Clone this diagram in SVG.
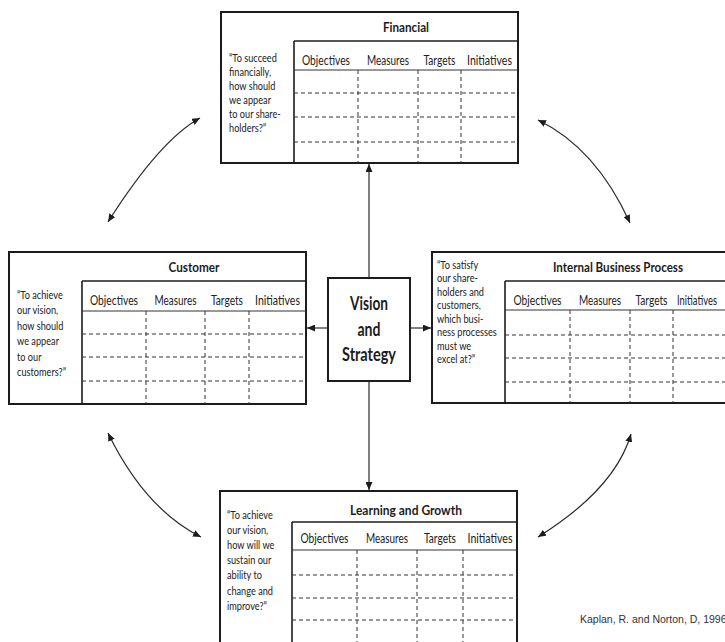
<svg xmlns="http://www.w3.org/2000/svg" width="725" height="642" viewBox="0 0 725 642">
<style>
.box{fill:#fff;stroke:#1c1c1c;stroke-width:2}
.tl{stroke:#1c1c1c;stroke-width:1.6}
.hl{stroke:#333;stroke-width:1}
.dl{stroke:#333;stroke-width:1;stroke-dasharray:4 3}
.q{font-family:Lato,"Open Sans",sans-serif;font-size:11.5px;fill:#222}
.h{font-family:Lato,"Open Sans",sans-serif;font-size:12.5px;fill:#222;text-anchor:middle}
.t{font-family:Lato,"Open Sans",sans-serif;font-size:13.5px;font-weight:bold;fill:#1c1c1c;text-anchor:middle}
.v{font-family:Lato,"Open Sans",sans-serif;font-size:18px;font-weight:bold;fill:#1c1c1c;text-anchor:middle}
.conn{fill:none;stroke:#2a2a2a;stroke-width:1.2}
.cite{font-family:"Liberation Sans",Arial,sans-serif;font-size:10.5px;fill:#333}
</style>
<defs>
<marker id="ah" markerUnits="userSpaceOnUse" markerWidth="8" markerHeight="7" refX="8" refY="3.5" orient="auto-start-reverse">
<path d="M0,0 L8,3.5 L0,7 z" fill="#1c1c1c"/>
</marker>
</defs>
<rect width="725" height="642" fill="#fff"/>

<g id="financial">
<rect class="box" x="221" y="12" width="297" height="151"/>
<text class="t" x="406" y="32" textLength="46" lengthAdjust="spacingAndGlyphs">Financial</text>
<line class="tl" x1="294" y1="41" x2="518" y2="41"/>
<line class="tl" x1="294" y1="41" x2="294" y2="163"/>
<line class="hl" x1="294" y1="70" x2="518" y2="70"/>
<text class="h" x="326" y="64.5" textLength="48" lengthAdjust="spacingAndGlyphs">Objectives</text>
<text class="h" x="388" y="64.5" textLength="42" lengthAdjust="spacingAndGlyphs">Measures</text>
<text class="h" x="439.5" y="64.5" textLength="32" lengthAdjust="spacingAndGlyphs">Targets</text>
<text class="h" x="489.5" y="64.5" textLength="45" lengthAdjust="spacingAndGlyphs">Initiatives</text>
<line class="dl" x1="294" y1="93" x2="518" y2="93"/>
<line class="dl" x1="294" y1="117" x2="518" y2="117"/>
<line class="dl" x1="294" y1="142" x2="518" y2="142"/>
<line class="dl" x1="358" y1="70" x2="358" y2="163"/>
<line class="dl" x1="418" y1="70" x2="418" y2="163"/>
<line class="dl" x1="461" y1="70" x2="461" y2="163"/>
<g transform="translate(229,0) scale(0.8,1)">
<text class="q" x="0" y="62">“To succeed</text>
<text class="q" x="0" y="76">financially,</text>
<text class="q" x="0" y="90">how should</text>
<text class="q" x="0" y="104">we appear</text>
<text class="q" x="0" y="118">to our share-</text>
<text class="q" x="0" y="132">holders?”</text>
</g>
</g>

<g id="customer">
<rect class="box" x="9" y="252" width="297" height="152"/>
<text class="t" x="194" y="272" textLength="51" lengthAdjust="spacingAndGlyphs">Customer</text>
<line class="tl" x1="82" y1="281" x2="306" y2="281"/>
<line class="tl" x1="82" y1="281" x2="82" y2="404"/>
<line class="hl" x1="82" y1="311" x2="306" y2="311"/>
<text class="h" x="114" y="304.5" textLength="48" lengthAdjust="spacingAndGlyphs">Objectives</text>
<text class="h" x="175.5" y="304.5" textLength="42" lengthAdjust="spacingAndGlyphs">Measures</text>
<text class="h" x="227" y="304.5" textLength="32" lengthAdjust="spacingAndGlyphs">Targets</text>
<text class="h" x="277.5" y="304.5" textLength="45" lengthAdjust="spacingAndGlyphs">Initiatives</text>
<line class="dl" x1="82" y1="334" x2="306" y2="334"/>
<line class="dl" x1="82" y1="357" x2="306" y2="357"/>
<line class="dl" x1="82" y1="381" x2="306" y2="381"/>
<line class="dl" x1="146" y1="311" x2="146" y2="404"/>
<line class="dl" x1="205" y1="311" x2="205" y2="404"/>
<line class="dl" x1="249" y1="311" x2="249" y2="404"/>
<g transform="translate(17,0) scale(0.8,1)">
<text class="q" x="0" y="299">“To achieve</text>
<text class="q" x="0" y="314.5">our vision,</text>
<text class="q" x="0" y="330">how should</text>
<text class="q" x="0" y="345.5">we appear</text>
<text class="q" x="0" y="361">to our</text>
<text class="q" x="0" y="376.5">customers?”</text>
</g>
</g>

<g id="internal-business-process">
<rect class="box" x="432" y="252" width="300" height="151"/>
<text class="t" x="618" y="272" textLength="130" lengthAdjust="spacingAndGlyphs">Internal Business Process</text>
<line class="tl" x1="505" y1="281" x2="732" y2="281"/>
<line class="tl" x1="505" y1="281" x2="505" y2="403"/>
<line class="hl" x1="505" y1="310" x2="732" y2="310"/>
<text class="h" x="537.5" y="304.5" textLength="48" lengthAdjust="spacingAndGlyphs">Objectives</text>
<text class="h" x="600" y="304.5" textLength="42" lengthAdjust="spacingAndGlyphs">Measures</text>
<text class="h" x="651.5" y="304.5" textLength="32" lengthAdjust="spacingAndGlyphs">Targets</text>
<text class="h" x="697" y="304.5" textLength="40" lengthAdjust="spacingAndGlyphs">Initiatives</text>
<line class="dl" x1="505" y1="335" x2="732" y2="335"/>
<line class="dl" x1="505" y1="358" x2="732" y2="358"/>
<line class="dl" x1="505" y1="382" x2="732" y2="382"/>
<line class="dl" x1="570" y1="310" x2="570" y2="403"/>
<line class="dl" x1="630" y1="310" x2="630" y2="403"/>
<line class="dl" x1="673" y1="310" x2="673" y2="403"/>
<g transform="translate(437,0) scale(0.8,1)">
<text class="q" x="0" y="269">“To satisfy</text>
<text class="q" x="0" y="282.5">our share-</text>
<text class="q" x="0" y="296">holders and</text>
<text class="q" x="0" y="309.5">customers,</text>
<text class="q" x="0" y="323">which busi-</text>
<text class="q" x="0" y="336.5">ness processes</text>
<text class="q" x="0" y="350">must we</text>
<text class="q" x="0" y="363.5">excel at?”</text>
</g>
</g>

<g id="learning-and-growth">
<rect class="box" x="220" y="491" width="297" height="160"/>
<text class="t" x="406" y="515" textLength="112" lengthAdjust="spacingAndGlyphs">Learning and Growth</text>
<line class="tl" x1="292" y1="522" x2="517" y2="522"/>
<line class="tl" x1="292" y1="522" x2="292" y2="642"/>
<line class="hl" x1="292" y1="550" x2="517" y2="550"/>
<text class="h" x="324.5" y="542.5" textLength="48" lengthAdjust="spacingAndGlyphs">Objectives</text>
<text class="h" x="387" y="542.5" textLength="42" lengthAdjust="spacingAndGlyphs">Measures</text>
<text class="h" x="440" y="542.5" textLength="32" lengthAdjust="spacingAndGlyphs">Targets</text>
<text class="h" x="490" y="542.5" textLength="45" lengthAdjust="spacingAndGlyphs">Initiatives</text>
<line class="dl" x1="292" y1="575" x2="517" y2="575"/>
<line class="dl" x1="292" y1="598" x2="517" y2="598"/>
<line class="dl" x1="292" y1="620" x2="517" y2="620"/>
<line class="dl" x1="357" y1="550" x2="357" y2="642"/>
<line class="dl" x1="417" y1="550" x2="417" y2="642"/>
<line class="dl" x1="463" y1="550" x2="463" y2="642"/>
<g transform="translate(227,0) scale(0.8,1)">
<text class="q" x="0" y="519">“To achieve</text>
<text class="q" x="0" y="534">our vision,</text>
<text class="q" x="0" y="549">how will we</text>
<text class="q" x="0" y="564">sustain our</text>
<text class="q" x="0" y="579.5">ability to</text>
<text class="q" x="0" y="595">change and</text>
<text class="q" x="0" y="610.5">improve?”</text>
</g>
</g>

<g id="vision-and-strategy">
<rect class="box" x="328" y="278" width="82" height="103"/>
<text class="v" x="369" y="309.5" textLength="38" lengthAdjust="spacingAndGlyphs">Vision</text>
<text class="v" x="369" y="336" textLength="23" lengthAdjust="spacingAndGlyphs">and</text>
<text class="v" x="369" y="361" textLength="54" lengthAdjust="spacingAndGlyphs">Strategy</text>
</g>

<g id="connectors">
<line class="conn" x1="369" y1="277" x2="369" y2="164" marker-end="url(#ah)"/>
<line class="conn" x1="369" y1="382" x2="369" y2="490" marker-end="url(#ah)"/>
<line class="conn" x1="327" y1="328" x2="307" y2="328" marker-end="url(#ah)"/>
<line class="conn" x1="411" y1="328" x2="431" y2="328" marker-end="url(#ah)"/>
<path class="conn" d="M200,118 Q160,140 108,222" marker-start="url(#ah)" marker-end="url(#ah)"/>
<path class="conn" d="M538,120 Q596,148 630,223" marker-start="url(#ah)" marker-end="url(#ah)"/>
<path class="conn" d="M108,433 Q145,509 201,537" marker-start="url(#ah)" marker-end="url(#ah)"/>
<path class="conn" d="M631,434 Q615,489 538,537" marker-start="url(#ah)" marker-end="url(#ah)"/>
</g>

<text class="cite" x="580" y="623">Kaplan, R. and Norton, D, 1996</text>
</svg>
